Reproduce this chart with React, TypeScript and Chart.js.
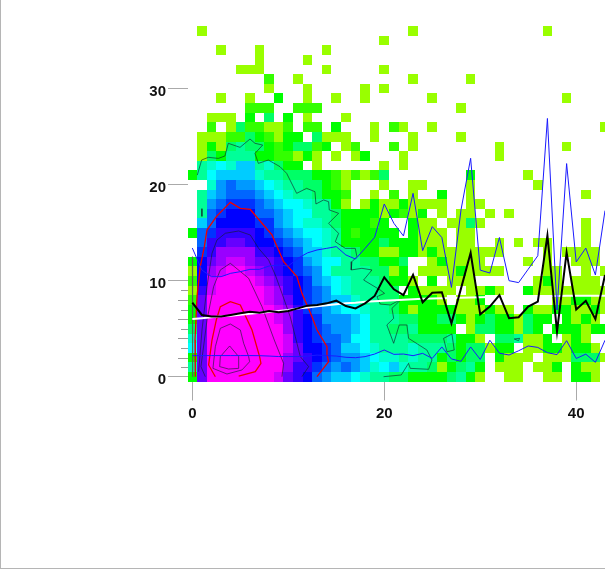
import React, { useEffect, useRef } from "react";
import { Chart, registerables } from "chart.js";

Chart.register(...registerables);

const levelColors = ["#ffffff","#99ff00","#33ff00","#00ff00","#00ff66","#00ff99","#00ffcc","#00ffff","#00ccff","#0099ff","#0066ff","#0033ff","#0000ff","#3300ff","#6600ff","#9900ff","#cc00ff","#ff00ff"];

const densityRows: number[][] = [
  /* y=0 */ [3,14,17,17,17,17,17,17,17,16, 14,13,12,10,9,8,8,7,6,5, 5,4,4,3,3,3,3,4,5,3, 1,0,0,1,1,0,0,1,1,0, 3,3,1,0],
  /* 1 */ [5,14,17,17,17,17,17,17,17,17, 15,13,13,11,10,9,10,9,8,6, 7,8,6,5,5,4,1,3,4,5, 3,0,1,1,1,0,1,1,3,0, 3,1,1,0],
  /* 2 */ [3,14,17,17,17,17,17,17,17,17, 15,14,13,12,11,10,9,9,8,7, 6,6,5,6,5,5,3,4,3,4, 4,0,3,1,1,1,0,1,1,1, 4,4,4,1],
  /* 3 */ [7,14,17,17,17,17,17,17,17,17, 16,14,12,12,11,10,8,8,7,6, 5,5,5,6,5,5,5,4,3,4, 4,1,3,3,0,1,1,3,3,1, 3,3,1,0],
  /* 4 */ [6,14,17,17,17,17,17,17,17,17, 16,13,12,11,10,10,9,7,7,5, 5,5,5,4,4,4,4,5,3,3, 1,0,4,4,5,1,1,3,0,1, 3,1,0,0],
  /* 5 */ [4,14,17,17,17,17,17,17,17,17, 15,13,12,11,10,9,9,8,7,5, 5,4,4,5,3,3,3,3,0,1, 4,4,3,3,1,4,3,0,3,3, 3,1,3,3],
  /* 6 */ [3,14,17,17,17,17,17,17,17,16, 15,13,12,11,9,9,9,8,7,5, 5,5,4,4,3,3,4,4,3,1, 3,4,3,3,1,4,3,3,0,3, 1,3,1,0],
  /* 7 */ [3,14,17,17,17,17,17,17,17,16, 15,13,11,10,9,8,7,7,6,5, 5,4,3,1,3,3,3,3,1,1, 1,3,1,1,0,3,1,1,3,3, 1,1,3,1],
  /* 8 */ [2,14,17,17,17,17,17,17,16,15, 14,12,11,10,9,8,8,6,5,5, 4,4,3,3,3,3,1,0,1,1, 3,0,0,0,0,0,0,0,1,1, 3,3,1,1],
  /* 9 */ [1,13,16,17,17,17,17,17,16,15, 13,12,11,10,9,7,6,5,5,5, 4,4,0,3,1,1,1,1,0,1, 1,3,1,0,0,3,1,1,1,1, 1,1,1,1],
  /* 10 */ [2,12,16,17,17,17,17,16,15,14, 13,12,11,9,8,7,6,5,5,5, 4,3,3,1,0,3,0,1,1,1, 0,0,0,0,0,0,1,3,1,0, 1,1,1],
  /* 11 */ [1,12,15,16,17,17,16,15,14,13, 12,11,10,9,7,5,5,5,5,4, 4,1,3,0,1,1,1,1,3,1, 1,1,1,0,0,0,0,1,1,0, 0,1,0,1],
  /* 12 */ [3,12,14,15,16,16,15,14,14,13, 12,11,9,8,7,7,5,5,4,4, 3,3,4,0,0,1,3,1,1,1, 1,0,0,0,0,1,0,1,0,0, 1,1,1],
  /* 13 */ [0,11,13,15,15,15,15,13,13,12, 11,10,8,8,6,5,5,4,3,3, 1,1,3,3,1,3,1,1,1,1, 1,1,1,0,0,0,0,1,0,1, 1,1,1],
  /* 14 */ [0,10,13,13,14,14,13,12,12,11, 10,9,8,7,6,5,3,3,3,3, 4,3,3,3,1,1,1,0,1,1, 0,0,1,0,1,0,1,1,0,0, 0,1],
  /* 15 */ [3,10,11,13,13,13,13,12,11,10, 9,8,7,7,6,5,3,2,3,3, 3,3,0,3,1,1,1,0,1,1, 0,0,0,0,0,0,0,0,0,0, 0,1],
  /* 16 */ [0,8,10,12,12,12,12,11,11,9, 8,7,6,6,5,4,3,3,3,2, 3,0,0,3,1,1,0,1,1,4, 1,0,0,0,0,0,0,0,0,0, 0,1],
  /* 17 */ [0,5,10,11,12,12,12,10,10,9, 8,7,7,5,5,4,3,3,3,3, 1,3,2,1,3,0,1,0,1,1, 0,1,0,1],
  /* 18 */ [0,5,9,10,11,11,11,10,9,8, 7,7,6,5,5,3,1,0,1,3, 1,1,3,1,1,1,1,0,0,1, 1],
  /* 19 */ [0,5,8,9,10,10,10,9,8,7, 6,5,5,4,3,3,2,0,0,1, 0,2,0,1,0,0,3,0,0,1, 0,0,0,0,0,0,0,0,0,0, 0,1],
  /* 20 */ [0,0,6,9,10,9,9,8,7,6, 5,5,4,4,3,2,1,0,0,0, 1,0,0,1,1,0,0,0,0,1, 0,0,0,0,0,0,1],
  /* 21 */ [3,5,7,8,8,8,8,6,5,5, 4,4,4,3,3,2,1,2,1,2, 4,0,0,0,0,0,0,0,0,3, 0,0,0,0,0,1],
  /* 22 */ [0,5,6,7,6,8,8,5,6,4, 3,3,0,1,0,0,0,0,0,0, 1,0,1],
  /* 23 */ [0,1,4,3,5,5,5,3,3,2, 2,1,3,1,0,1,0,1,3,0, 0,0,1,0,0,0,0,0,0,0, 0,0,1],
  /* 24 */ [0,1,3,1,4,5,4,4,3,2, 3,4,4,2,3,0,1,2,0,0, 0,2,0,1,0,0,0,0,0,0, 0,0,1,0,0,0,0,0,0,1],
  /* 25 */ [0,1,1,1,2,2,4,3,2,1, 3,3,0,4,1,1,1,0,0,1, 0,0,0,1,0,0,0,0,1],
  /* 26 */ [0,0,2,0,1,4,2,2,1,1, 2,0,2,2,0,3,0,0,0,1, 0,2,1,0,0,1,0,0,0,0, 0,0,0,0,0,0,0,0,0,0, 0,0,0,1],
  /* 27 */ [0,0,1,1,1,0,3,0,4,0, 3,0,1,0,0,0,1],
  /* 28 */ [0,0,0,0,0,0,2,2,2,0, 0,2,2,2,0,0,0,0,0,0, 0,0,0,0,0,0,0,0,1],
  /* 29 */ [0,0,0,1,0,0,1,0,0,3, 0,0,1,0,0,1,0,0,1,0, 0,0,0,0,0,1,0,0,0,0, 0,0,0,0,0,0,0,0,0,1],
  /* 30 */ [0,0,0,0,0,0,0,0,1,0, 0,0,1,0,0,0,0,0,1,0, 1],
  /* 31 */ [0,0,0,0,0,0,0,0,2,0, 0,1,0,0,0,0,0,0,0,0, 0,0,0,1,0,0,0,0,0,1],
  /* 32 */ [0,0,0,0,0,1,1,1,0,0, 0,0,0,0,1,0,0,0,0,0, 1],
  /* 33 */ [0,0,0,0,0,0,0,1,0,0, 0,0,1],
  /* 34 */ [0,0,0,1,0,0,0,1,0,0, 0,0,0,0,1],
  /* 35 */ [0,0,0,0,0,0,0,0,0,0, 0,0,0,0,0,0,0,0,0,0, 1],
  /* 36 */ [0,1,0,0,0,0,0,0,0,0, 0,0,0,0,0,0,0,0,0,0, 0,0,0,1,0,0,0,0,0,0, 0,0,0,0,0,0,0,1],
];

const meanLine = [7.71,6.43,6.26,6.26,6.43,6.6,6.77,6.67,6.84,6.71, 6.84,7.12,7.4,7.47,7.64,7.92,7.36,7.12,7.64,8.41, 10.35,9.1,8.51,10.6,7.75,8.75,8.79,5.56,9.2,12.9, 6.5,7.3,8.5,6.1,6.2,7.3,7.82,14.7,4.7,12.95, 7.0,7.9,6.0,10.6];
const upperLine = [13.4,11.1,10.42,10.42,10.77,10.94,11.18,11.18,11.53,11.63, 11.53,12.33,12.9,13.2,13.37,13.55,12.68,12.26,13.37,14.52, 17.99,15.98,14.66,19.1,13.13,15.63,14.5,9.3,17.4,22.75, 11.1,10.8,14.5,10.0,9.8,11.2,12.6,26.9,6.95,22.2, 11.95,13.4,10.6,17.3];
const lowerLine = [2.19,2.2,2.2,2.2,2.2,2.2,2.2,2.19,2.15,2.1, 2.1,2.1,2.15,2.25,2.2,2.15,2.02,1.98,2.09,2.36, 2.78,2.33,2.36,2.19,2.43,1.91,3.1,1.85,1.6,3.1, 1.8,3.8,2.45,2.26,2.7,3.2,3.05,2.5,2.3,3.75, 1.9,2.35,1.5,3.8];
const fitLine = [6.0,6.1,6.2,6.3,6.35,6.45,6.55,6.65,6.75,6.85, 6.95,7.1,7.2,7.35,7.45,7.55,7.65,7.7,7.8,7.85, 7.92,7.97,8.02,8.07,8.12,8.15,8.18,8.2,8.23,8.25, 8.27,8.3,8.32,8.34,8.35,8.37,8.38,8.4,8.41,8.42, 8.43,8.44,8.44,8.44];

const redOuter = [[12.99,0],[14.2,1.56],[14.03,2.26],[14.03,3.13],[12.99,4.86],[12.47,6.25],[11.42,8.68],[10.9,10.42],[9.51,11.98],[8.3,14.77],[7.26,15.98],[6.04,17.42],[5,17.54],[3.96,18.16],[2.5,16.67],[1.53,15.28],[1.25,13.54],[0.83,11.46],[0.49,8.34],[0.28,3.82],[0.31,0]];
const redInner = [[4.83,0.07],[6.56,0.52],[7.15,1.39],[7.01,2.09],[6.22,4.87],[5,7.47],[3.96,7.81],[2.92,7.3],[2.5,5.91],[2.05,3.82],[1.7,1.22],[2.4,0]];
const contourA = [[11.42,0],[12.12,1.05],[11.25,2.09],[10.73,4.17],[10.2,6.25],[9.34,8.68],[8.65,10.59],[7.95,12.16],[6.91,13.37],[6.04,14.76],[4.83,15.18],[3.44,14.94],[2.57,14.24],[2.05,12.85],[1.53,9.38],[1.01,4.87],[0.66,0.52]];
const contourB = [[9.34,0],[9.51,1.39],[8.54,3.82],[7.26,7.3],[5.87,10.25],[3.96,11.81],[2.92,11.12],[2.22,9.38],[1.53,5.9],[0.9,1.05],[1.35,0]];
const contourC = [[5.87,2.09],[5.35,3.48],[5,4.87],[3.96,5.49],[2.92,5.04],[2.4,3.13],[2.15,0.87],[3.61,0.28],[5.17,0.7],[5.97,1.56],[5.87,2.09]];
const contourD = [[4.83,0.87],[4.83,2.09],[3.89,3.2],[2.92,2.09],[2.85,1.05],[3.78,0.8],[4.83,0.87]];
const contourOuter = [[0.52,21.0],[0.97,22.57],[1.67,22.85],[2.71,22.74],[3.4,22.99],[3.75,24.31],[4.97,23.89],[6.01,24.76],[6.53,24.31],[7.33,24.13],[6.53,23.26],[6.88,22.22],[7.92,22.57],[9.13,21.88],[9.83,21.18],[10.87,19.1],[11.91,19.62],[12.78,19.27],[12.88,17.99],[13.68,18.41],[14.2,18.23],[14.27,17.37],[15.24,17.02],[14.2,15.98],[15.24,14.93],[14.9,14.06],[15.94,13.37],[16.98,13.37],[17.15,12.5],[16.63,11.98],[16.56,11.12],[17.67,11.29],[18.72,11.12],[17.85,10.07],[19.58,9.03],[20.03,8.68],[19.24,8.34],[19.58,7.57],[20.63,7.47],[21.77,8.06],[20.8,7.12],[20.98,6.08],[20.27,5.39],[20.98,3.48],[21.56,5.39],[22.36,5.39],[22.53,4.0],[24.44,2.78],[24.97,1.74],[24.62,0.77],[22.71,0.87],[22.53,1.39],[21.77,0.18],[19.93,0]];
const contourLoopA = [[26.18,3.99],[27.05,4.45],[27.29,2.78],[26.53,2.6],[26.18,3.99]];
const contourLoopB = [[33.54,3.93],[34.1,4.0],[33.99,3.75],[33.54,3.93]];
const contourEdge = [[0,12.5],[0.03,0]];
const contourDash = [[1.0,17.5],[1.0,16.7]];

const xTicks = [0, 20, 40];
const yTicks = [0, 10, 20, 30];
const minorShortTicks = [1, 3, 5, 7, 9];
const minorLongTicks = [2, 4, 6, 8];

const heatPoints: { x: number; y: number }[] = [];
const heatColors: string[] = [];
densityRows.forEach((row, r) =>
  row.forEach((level, c) => {
    if (level > 0) {
      heatPoints.push({ x: c, y: r });
      heatColors.push(levelColors[level]);
    }
  })
);

const series = (values: number[]) => values.map((y, x) => ({ x, y }));
const path = (pairs: number[][]) => pairs.map(([x, y]) => ({ x, y }));
const lineDs = (data: { x: number; y: number }[], color: string, width: number) => ({
  data,
  showLine: true,
  borderColor: color,
  borderWidth: width,
  pointRadius: 0,
  tension: 0,
  fill: false,
});

const DARK = "rgba(20,30,40,0.62)";

const heatPlugin = {
  id: "heatCells",
  beforeDatasetDraw(chart: any, args: any) {
    if (chart.data.datasets[args.index].label !== "density") return;
    const { ctx, scales } = chart;
    ctx.save();
    heatPoints.forEach((p, i) => {
      const l = Math.round(scales.x.getPixelForValue(p.x - 0.5));
      const r = Math.round(scales.x.getPixelForValue(p.x + 0.5));
      const b = Math.round(scales.y.getPixelForValue(p.y - 0.5));
      const t = Math.round(scales.y.getPixelForValue(p.y + 0.5));
      ctx.fillStyle = heatColors[i];
      ctx.fillRect(l, t, r - l, b - t);
    });
    ctx.restore();
    return false;
  },
  afterDraw(chart: any) {
    const { ctx, scales } = chart;
    const right = chart.chartArea.left;
    ctx.save();
    ctx.strokeStyle = "#999999";
    ctx.lineWidth = 1;
    const mark = (v: number, len: number) => {
      const y = Math.round(scales.y.getPixelForValue(v)) + 0.5;
      ctx.beginPath();
      ctx.moveTo(right - len, y);
      ctx.lineTo(right, y);
      ctx.stroke();
    };
    minorShortTicks.forEach((v) => mark(v, 7));
    minorLongTicks.forEach((v) => mark(v, 10));
    ctx.restore();
  },
};

export default function App() {
  const ref = useRef<HTMLCanvasElement>(null);
  useEffect(() => {
    const font = { family: "'Liberation Sans', Arial, sans-serif", size: 15, weight: "bold" as const };
    const chart = new Chart(ref.current!, {
      type: "scatter",
      data: {
        datasets: [
          lineDs(series(meanLine), "#000000", 2),
          lineDs(series(upperLine), "#1a1aff", 1),
          lineDs(series(lowerLine), "#1a1aff", 1),
          lineDs(series(fitLine), "#ffffff", 2),
          lineDs(path(redOuter), "#ee0000", 1.3),
          lineDs(path(redInner), "#ee0000", 1.3),
          lineDs(path(contourA), DARK, 1),
          lineDs(path(contourB), DARK, 1),
          lineDs(path(contourC), DARK, 1),
          lineDs(path(contourD), DARK, 1),
          lineDs(path(contourOuter), DARK, 1),
          lineDs(path(contourLoopA), DARK, 1),
          lineDs(path(contourLoopB), DARK, 1),
          lineDs(path(contourEdge), "rgba(90,90,90,0.7)", 1),
          lineDs(path(contourDash), DARK, 1),
          {
            label: "density",
            data: heatPoints,
            backgroundColor: heatColors,
            pointStyle: "rect",
            pointRadius: 6.79,
            borderWidth: 0,
          },
        ],
      } as any,
      options: {
        responsive: false,
        animation: false,
        events: [],
        layout: { autoPadding: false, padding: { top: 21.5, left: 0, right: 0, bottom: 0 } },
        plugins: { legend: { display: false }, tooltip: { enabled: false } },
        scales: {
          x: {
            type: "linear",
            min: -0.45,
            max: 43,
            afterBuildTicks: (s: any) => { s.ticks = xTicks.map((value) => ({ value })); },
            afterFit: (s: any) => { s.height = 187.5; },
            border: { display: false },
            grid: { drawOnChartArea: false, drawTicks: true, tickLength: 19, color: "#aaaaaa" },
            ticks: { color: "#111111", font, padding: 4, autoSkip: false, maxRotation: 0 },
          },
          y: {
            type: "linear",
            min: -0.5,
            max: 37,
            afterBuildTicks: (s: any) => { s.ticks = yTicks.map((value) => ({ value })); },
            afterFit: (s: any) => { s.width = 188; },
            border: { display: false },
            grid: { drawOnChartArea: false, drawTicks: true, tickLength: 20, color: "#aaaaaa" },
            ticks: { color: "#111111", font, padding: 2, labelOffset: 3, autoSkip: false },
          },
        },
      },
      plugins: [heatPlugin],
    } as any);
    return () => chart.destroy();
  }, []);
  return (
    <div style={{ position: "fixed", left: 0, top: 0, width: 605, height: 569, background: "#ffffff", boxShadow: "inset 1px -1px 0 #b5b5b5" }}>
      <canvas ref={ref} width={605} height={569} style={{ display: "block", width: 605, height: 569 }} />
    </div>
  );
}
